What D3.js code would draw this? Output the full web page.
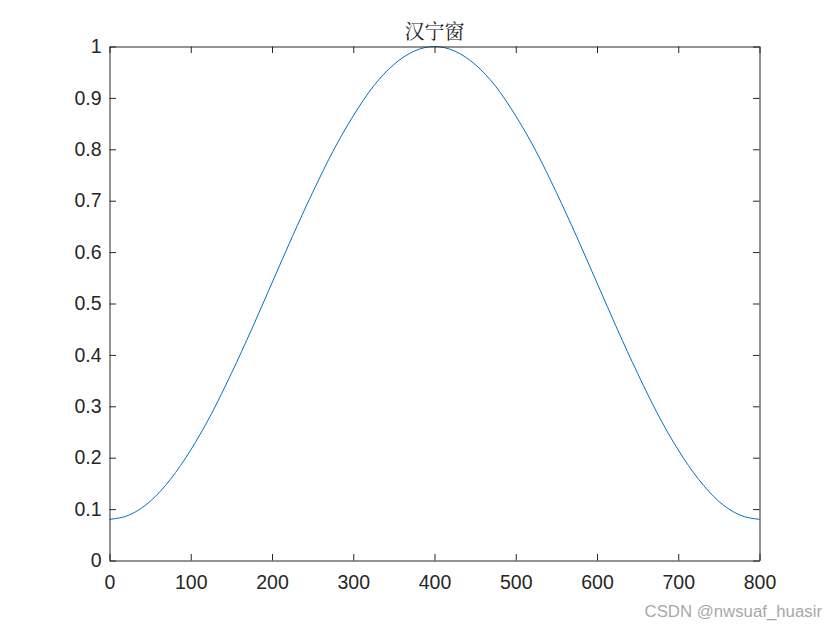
<!DOCTYPE html>
<html><head><meta charset="utf-8">
<script src="https://cdn.jsdelivr.net/npm/d3@7"></script>
<style>body{margin:0;background:#fff}svg{display:block}</style>
</head><body>
<script>
const xs = [0,25,50,75,100,125,150,175,200,225,250,275,300,325,350,375,400,425,450,475,500,525,550,575,600,625,650,675,700,725,750,775,800];
const ys = [0.080,0.089,0.115,0.158,0.215,0.284,0.364,0.450,0.540,0.630,0.716,0.796,0.865,0.923,0.965,0.991,1.000,0.991,0.965,0.923,0.865,0.796,0.716,0.630,0.540,0.450,0.364,0.284,0.215,0.158,0.115,0.089,0.080];
const xTicks = [0,100,200,300,400,500,600,700,800];
const yTicks = [0,0.1,0.2,0.3,0.4,0.5,0.6,0.7,0.8,0.9,1];
const title = "汉宁窗";
const watermark = "CSDN @nwsuaf_huasir";

const W=840,H=630, L=109.5,R=759.5,T=46.5,B=560.5;
const svg=d3.select("body").append("svg").attr("width",W).attr("height",H);
const x=d3.scaleLinear().domain([0,800]).range([L,R]);
const y=d3.scaleLinear().domain([0,1]).range([B,T]);
const font="Arial, 'Liberation Sans', Helvetica, sans-serif";

svg.append("path").datum(xs.map((v,i)=>[v,ys[i]]))
 .attr("fill","none").attr("stroke","#0072BD").attr("stroke-width",1)
 .attr("d",d3.line().x(d=>x(d[0])).y(d=>y(d[1])).curve(d3.curveMonotoneX));

const tl=6.5;
function styleAxis(g){g.select(".domain").attr("stroke","#262626");g.selectAll(".tick line").attr("stroke","#262626");g.selectAll("text").attr("fill","#262626").style("font-family",font).style("font-size","19.5px");}
svg.append("g").attr("transform",`translate(0,${B})`).call(d3.axisBottom(x).tickValues(xTicks).tickSize(-tl).tickSizeOuter(0).tickPadding(15).tickFormat(d3.format("d"))).call(styleAxis);
svg.append("g").attr("transform",`translate(0,${T})`).call(d3.axisTop(x).tickValues(xTicks).tickSize(-tl).tickSizeOuter(0).tickFormat("")).call(styleAxis);
svg.append("g").attr("transform",`translate(${L},0)`).call(d3.axisLeft(y).tickValues(yTicks).tickSize(-tl).tickSizeOuter(0).tickPadding(8).tickFormat(d=>String(+d.toFixed(1)))).call(styleAxis);
svg.append("g").attr("transform",`translate(${R},0)`).call(d3.axisRight(y).tickValues(yTicks).tickSize(-tl).tickSizeOuter(0).tickFormat("")).call(styleAxis);

svg.append("text").attr("x",(L+R)/2).attr("y",39).attr("text-anchor","middle")
 .style("font-family","'Noto Serif CJK SC','Noto Sans CJK SC',serif").style("font-size","20px").attr("fill","#1a1a1a").text(title);
svg.append("text").attr("x",822).attr("y",617).attr("text-anchor","end")
 .style("font-family",font).style("font-size","16.8px").attr("fill","#a8a8a8").text(watermark);
</script>
</body></html>
